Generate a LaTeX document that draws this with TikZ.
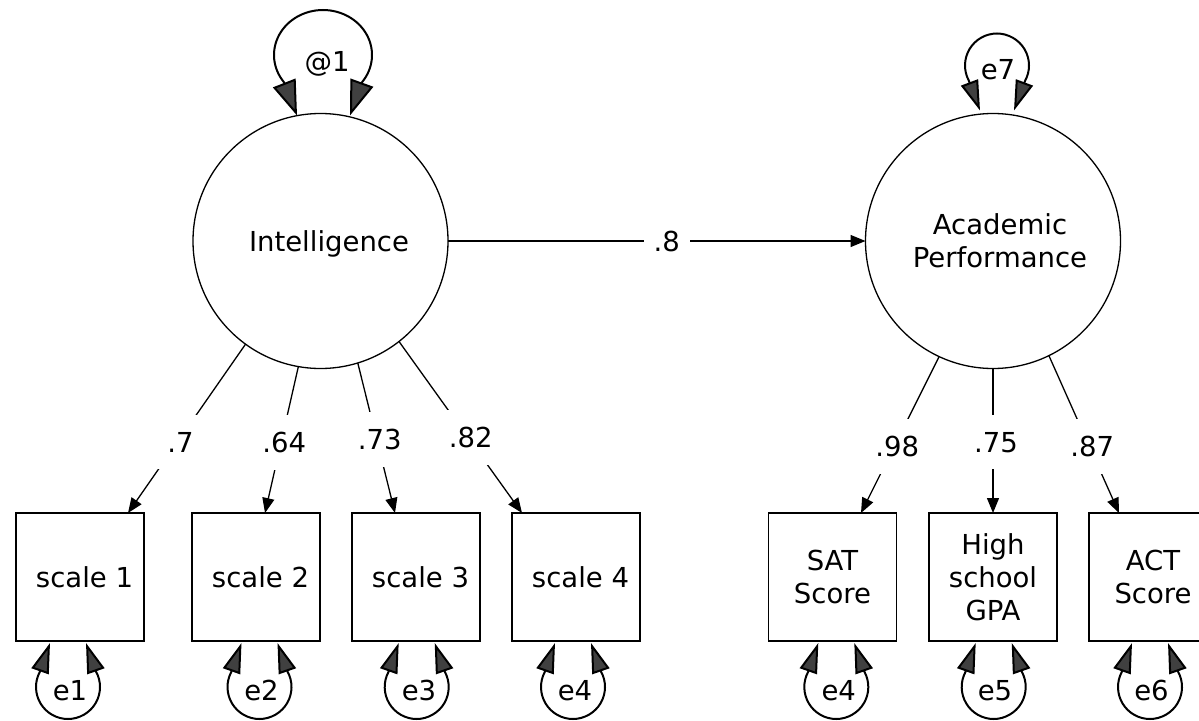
\documentclass[tikz,border=0pt]{standalone}
\usepackage{fontspec}
\setmainfont{DejaVu Sans}
\usetikzlibrary{arrows.meta,calc}
\definecolor{headgray}{RGB}{64,64,64}
% loop path below a box (relative coordinates, y pointing down)
\newcommand{\errpath}{(-18,2) -- (-28.25,30.98) .. controls (-33.52,40.90) and (-33.21,52.85) .. (-27.43,62.48) .. controls (-21.65,72.11) and (-11.23,78) .. (0,78) .. controls (11.23,78) and (22.09,71.73) .. (27.71,62) .. controls (33.33,52.27) and (33.43,40.31) .. (27.99,30.49) -- (18,2)}
\begin{document}
\begin{tikzpicture}[x=1pt,y=-1pt,
  txt/.style={font=\fontsize{27.5pt}{33pt}\selectfont},
  latent/.style={txt,circle,draw,line width=1.3pt,minimum size=255pt,inner sep=0pt,outer sep=0pt},
  obs/.style={txt,rectangle,draw,line width=1.6pt,minimum width=128pt,minimum height=128pt,inner sep=0pt,outer sep=0pt,align=center},
  reg/.style={line width=1.3pt,-{Triangle[length=15pt,width=12pt]}},
  coef/.style={txt,fill=white,inner xsep=10pt,inner ysep=17pt,xshift=3pt},
  varloop/.style={line width=2pt,{Triangle[length=30pt,width=18pt,fill=headgray]}-{Triangle[length=30pt,width=18pt,fill=headgray]}},
  bigloop/.style={line width=2pt,{Triangle[length=35pt,width=24pt,fill=headgray]}-{Triangle[length=35pt,width=24pt,fill=headgray]}},
  errlbl/.style={txt,anchor=base,inner sep=0pt}
]
\path[use as bounding box] (0,0) rectangle (1199,720);
\clip (0,0) rectangle (1199,720);
\fill[white] (0,0) rectangle (1199,720);

% latent variables
\node[latent,text depth=0pt] (int) at (320.5,241) {\hspace*{17pt}Intelligence};
\node[latent,align=center] (acad) at (993,241) {\hspace*{14pt}Academic\\\hspace*{14pt}Performance};

% observed variables
\node[obs] (s1) at (80,577) {\hspace*{9pt}scale 1};
\node[obs] (s2) at (256,577) {\hspace*{9pt}scale 2};
\node[obs] (s3) at (416,577) {\hspace*{9pt}scale 3};
\node[obs] (s4) at (576,577) {\hspace*{9pt}scale 4};
\node[obs] (sat) at (832.5,577) {SAT\\Score};
\node[obs] (gpa) at (993,577) {High\\school\\GPA};
\node[obs] (act) at (1153,577) {ACT\\Score};

% regression path
\draw[reg] (int.east) -- node[coef,pos=0.517] (l8) {.8} (acad.west);

% loadings
\draw[reg] (int.-126) -- node[coef,pos=0.58] (l1) {.7} ([xshift=48pt]s1.north);
\draw[reg] (int.-100.7) -- node[coef,pos=0.516] (l2) {.64} ([xshift=9pt]s2.north);
\draw[reg] (int.-73.8) -- node[coef,pos=0.512] (l3) {.73} ([xshift=-21pt]s3.north);
\draw[reg] (int.-52.5) -- node[coef,pos=0.558] (l4) {.82} ([xshift=-54pt]s4.north);
\draw[reg] (acad.-115.9) -- node[coef,pos=0.576] (l5) {.98} ([xshift=28.5pt]sat.north);
\draw[reg] (acad.south) -- node[coef,pos=0.51] (l6) {.75} (gpa.north);
\draw[reg] (acad.-64.5) -- node[coef,pos=0.577] (l7) {.87} ([xshift=-34pt]act.north);

% variance loops on latent variables
\draw[bigloop,shift={(int.north)},xshift=2.5pt] (-26,2) -- (-39.03,-31.29) .. controls (-50.29,-44.91) and (-52.17,-63.20) .. (-43.89,-78.51) .. controls (-35.61,-93.82) and (-18.62,-103.5) .. (0,-103.5) .. controls (18.62,-103.5) and (35.61,-93.82) .. (43.89,-78.51) .. controls (52.17,-63.20) and (50.29,-44.91) .. (39.03,-31.29) -- (27,2);
\node[errlbl] (v1) at (327,71.7) {@1};
\draw[varloop,shift={(acad.north)},xshift=4pt] (-17,-3) -- (-28.25,-32.98) .. controls (-33.52,-42.90) and (-33.21,-54.85) .. (-27.43,-64.48) .. controls (-21.65,-74.11) and (-11.23,-80) .. (0,-80) .. controls (11.23,-80) and (22.09,-73.73) .. (27.71,-64) .. controls (33.33,-54.27) and (33.43,-42.31) .. (27.99,-32.49) -- (17,-3);
\node[errlbl] (v7) at (998,79) {e7};

% error loops on observed variables
\draw[varloop,shift={(s1.south)},xshift=-12pt] \errpath;
\draw[varloop,shift={(s2.south)},xshift=3.5pt] \errpath;
\draw[varloop,shift={(s3.south)},xshift=0.7pt] \errpath;
\draw[varloop,shift={(s4.south)},xshift=-3pt] \errpath;
\draw[varloop,shift={(sat.south)},xshift=3.8pt] \errpath;
\draw[varloop,shift={(gpa.south)},xshift=0.7pt] \errpath;
\draw[varloop,shift={(act.south)},xshift=-3pt] \errpath;

\node[errlbl] (e1) at (70,700) {e1};
\node[errlbl] (e2) at (261.5,700) {e2};
\node[errlbl] (e3) at (419,700) {e3};
\node[errlbl] (e4) at (575,700) {e4};
\node[errlbl] (e4b) at (838.7,700) {e4};
\node[errlbl] (e5) at (995,700) {e5};
\node[errlbl] (e6) at (1151.5,700) {e6};
\end{tikzpicture}
\end{document}
